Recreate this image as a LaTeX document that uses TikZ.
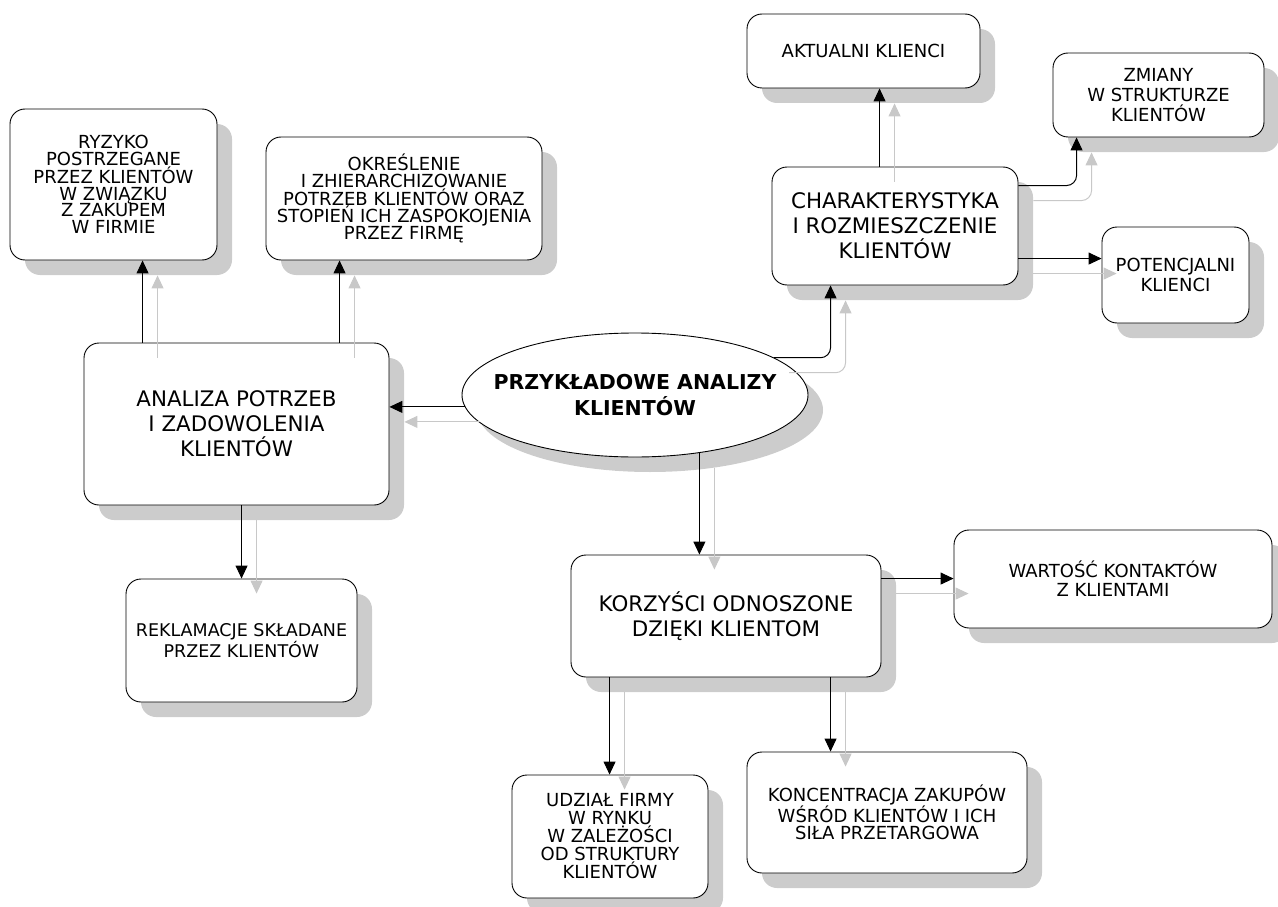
\documentclass[tikz,border=0pt]{standalone}
\usepackage{fontspec}
\setmainfont{DejaVu Sans}
\usetikzlibrary{shapes.geometric,shadows,arrows.meta}
\definecolor{shgray}{RGB}{204,204,204}
\definecolor{argray}{RGB}{200,200,200}
\newcommand{\smallfont}[1]{\fontsize{18}{#1}\selectfont}
\newcommand{\bigfont}{\fontsize{21.4}{25}\selectfont}
\tikzset{
  box/.style={draw=black, line width=0.9pt, fill=white, rounded corners=15pt,
    inner sep=0pt, align=center,
    drop shadow={shadow xshift=15pt, shadow yshift=-15pt, fill=shgray, opacity=1}},
  barr/.style={draw=black, line width=1pt, -{Triangle[length=13pt,width=12pt]}},
  garr/.style={draw=argray, line width=1pt, -{Triangle[length=13pt,width=12pt]}},
}
\newcommand{\gconn}[3]{\draw[garr] ([shift={(15,15)}]#1) #2 ([shift={(15,15)}]#3);}
\newcommand{\bconn}[3]{\draw[barr] (#1) #2 (#3);}
\begin{document}
\begin{tikzpicture}[x=1pt,y=-1pt]
\useasboundingbox (0,0) rectangle (1278,907);
% boxes
\node[box, minimum width=207pt, minimum height=151pt, font=\smallfont{16.8}] (ryz) at (113.5,184.5)
  {RYZYKO\\POSTRZEGANE\\PRZEZ KLIENTÓW\\W ZWIĄZKU\\Z ZAKUPEM\\W FIRMIE};
\node[box, minimum width=276pt, minimum height=123pt, font=\smallfont{17.2}] (okr) at (404,198.5)
  {OKREŚLENIE\\I ZHIERARCHIZOWANIE\\POTRZEB KLIENTÓW ORAZ\\STOPIEŃ ICH ZASPOKOJENIA\\PRZEZ FIRMĘ};
\node[box, minimum width=305pt, minimum height=162pt, font=\bigfont] (ana) at (236.5,424)
  {ANALIZA POTRZEB\\I ZADOWOLENIA\\KLIENTÓW};
\node[box, minimum width=231pt, minimum height=123pt, font=\fontsize{17.5}{16}\selectfont] (rek) at (241.5,640.5)
  {REKLAMACJE SKŁADANE\\PRZEZ KLIENTÓW};
\node[box, minimum width=233pt, minimum height=74pt, font=\smallfont{17}] (akt) at (863.5,51)
  {AKTUALNI KLIENCI};
\node[box, minimum width=211pt, minimum height=84pt, font=\smallfont{20}] (zmi) at (1158.5,95)
  {ZMIANY\\W STRUKTURZE\\KLIENTÓW};
\node[box, minimum width=246pt, minimum height=118pt, font=\bigfont] (cha) at (895,226)
  {CHARAKTERYSTYKA\\I ROZMIESZCZENIE\\KLIENTÓW};
\node[box, minimum width=147pt, minimum height=96pt, font=\smallfont{20}] (pot) at (1175.5,275)
  {POTENCJALNI\\KLIENCI};
\node[box, minimum width=310pt, minimum height=122pt, font=\bigfont] (kor) at (726,616)
  {KORZYŚCI ODNOSZONE\\DZIĘKI KLIENTOM};
\node[box, minimum width=318pt, minimum height=98pt, font=\smallfont{19}] (war) at (1113,579)
  {WARTOŚĆ KONTAKTÓW\\Z KLIENTAMI};
\node[box, minimum width=196pt, minimum height=123pt, font=\smallfont{18}] (udz) at (610,836.5)
  {UDZIAŁ FIRMY\\W RYNKU\\W ZALEŻOŚCI\\OD STRUKTURY\\KLIENTÓW};
\node[box, minimum width=280pt, minimum height=121pt, font=\smallfont{17}] (kon) at (887,812.5)
  {KONCENTRACJA ZAKUPÓW\\WŚRÓD KLIENTÓW I ICH\\SIŁA PRZETARGOWA};
% connector points
\coordinate (a1) at ([xshift=59pt]ana.north west);
\coordinate (a1e) at (a1 |- ryz.south);
\coordinate (a2) at ([xshift=256pt]ana.north west);
\coordinate (a2e) at (a2 |- okr.south);
\coordinate (a3) at ([xshift=158pt]ana.south west);
\coordinate (a3e) at (a3 |- rek.north);
\coordinate (k1) at ([xshift=39pt]kor.south west);
\coordinate (k1e) at (k1 |- udz.north);
\coordinate (k2) at ([xshift=260pt]kor.south west);
\coordinate (k2e) at (k2 |- kon.north);
\coordinate (k3) at ([yshift=-24pt]kor.north east);
\coordinate (k3e) at (k3 -| war.west);
\coordinate (c1) at ([xshift=108pt]cha.north west);
\coordinate (c1e) at (c1 |- akt.south);
\coordinate (c2) at ([yshift=-19pt]cha.north east);
\coordinate (c2e) at ([xshift=24pt]zmi.south west);
\coordinate (c3) at ([yshift=-92pt]cha.north east);
\coordinate (c3e) at (c3 -| pot.west);
\coordinate (e3e) at ([xshift=59pt]cha.south west);
% gray arrow shadows
\gconn{a1}{--}{a1e}
\gconn{a2}{--}{a2e}
\gconn{a3}{--}{a3e}
\gconn{k1}{--}{k1e}
\gconn{k2}{--}{k2e}
\gconn{k3}{--}{k3e}
\gconn{c1}{--}{c1e}
\draw[garr, rounded corners=10pt] ([shift={(15,15)}]c2) -| ([shift={(15,15)}]c2e);
\gconn{c3}{--}{c3e}
% central ellipse
\node[ellipse, draw=black, line width=0.9pt, fill=white, inner sep=0pt,
  minimum width=346pt, minimum height=124pt,
  drop shadow={shadow xshift=15pt, shadow yshift=-15pt, fill=shgray, opacity=1}]
  (ell) at (635,395) {};
\node[align=center, inner sep=0pt, font=\bfseries\fontsize{20.5}{26}\selectfont]
  (ellt) at (ell.center) {PRZYKŁADOWE ANALIZY\\KLIENTÓW};
\coordinate (e1) at (ell.184);
\coordinate (e1e) at (e1 -| ana.east);
\coordinate (e2) at (ell.-42);
\coordinate (e2e) at (e2 |- kor.north);
\coordinate (e3) at (ell.15.5);
\gconn{e1}{--}{e1e}
\gconn{e2}{--}{e2e}
\draw[garr, rounded corners=10pt] ([shift={(15,15)}]e3) -| ([shift={(15,15)}]e3e);
% black arrows
\bconn{a1}{--}{a1e}
\bconn{a2}{--}{a2e}
\bconn{a3}{--}{a3e}
\bconn{k1}{--}{k1e}
\bconn{k2}{--}{k2e}
\bconn{k3}{--}{k3e}
\bconn{c1}{--}{c1e}
\draw[barr, rounded corners=10pt] (c2) -| (c2e);
\bconn{c3}{--}{c3e}
\bconn{e1}{--}{e1e}
\bconn{e2}{--}{e2e}
\draw[barr, rounded corners=10pt] (e3) -| (e3e);
\end{tikzpicture}
\end{document}
